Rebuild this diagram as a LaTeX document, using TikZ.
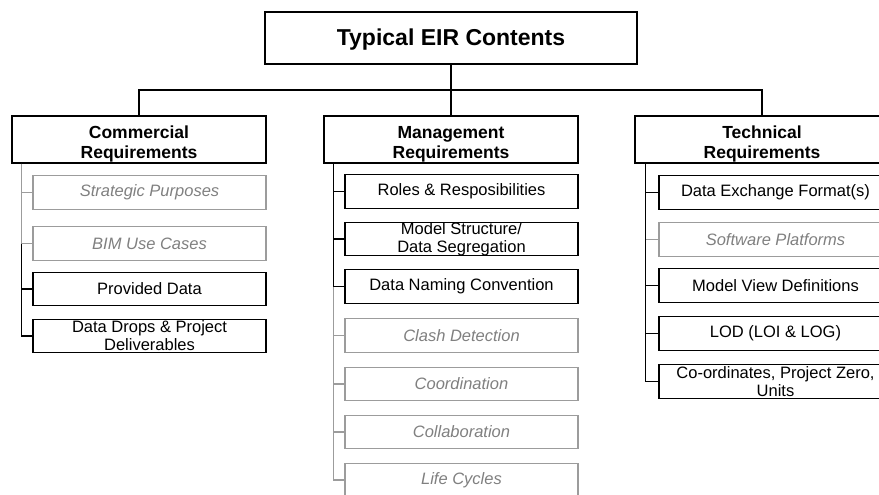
\documentclass[tikz,border=0pt]{standalone}
\usepackage{fontspec}
\setmainfont{Liberation Sans}
\definecolor{gtext}{HTML}{808080}
\definecolor{gline}{HTML}{9C9C9C}
\newcommand\headtxt[2]{\raisebox{-4.5pt}[\height][\depth]{\begin{tabular}{@{}c@{}}#1\\#2\end{tabular}}}
\begin{document}
\begin{tikzpicture}[x=1pt,y=-1pt,
  bl/.style={draw=black,line width=1.3pt},
  gl/.style={draw=gline,line width=1.2pt},
  topbox/.style={bl,fill=white,minimum width=372,minimum height=52,inner sep=0pt,
     font=\fontsize{23}{26}\selectfont\bfseries},
  headbox/.style={bl,fill=white,minimum width=254,minimum height=47,inner sep=0pt,align=center,
     font=\fontsize{17.5}{20}\selectfont\bfseries},
  kid/.style={bl,fill=white,minimum width=233,minimum height=33.5,inner sep=0pt,align=center,
     font=\fontsize{16.5}{18}\selectfont},
  gkid/.style={gl,fill=white,minimum width=233,minimum height=33.5,inner sep=0pt,align=center,
     text=gtext,font=\fontsize{16.5}{18}\selectfont\itshape}]
\useasboundingbox (0,0) rectangle (879,495);
\clip (0,0) rectangle (879,495);
% top
\node[topbox] (title) at (451,38) {\raisebox{-2pt}[\height][\depth]{Typical EIR Contents}};
\node[headbox] (com) at (139,139.5) {\headtxt{Commercial}{Requirements}};
\node[headbox] (mgmt) at (451,139.5) {\headtxt{Management}{Requirements}};
\node[headbox] (tech) at (762,139.5) {\headtxt{Technical}{Requirements}};
\coordinate (bar) at (0,90);
\draw[bl] (title.south) -- (mgmt.north);
\draw[bl] (com.north) -- (com.north |- bar) -| (tech.north);
% commercial children
\node[gkid] (c1) at (149.5,192.5) {Strategic Purposes};
\node[gkid] (c2) at (149.5,243.5) {BIM Use Cases};
\node[kid] (c3) at (149.5,289) {Provided Data};
\node[kid] (c4) at (149.5,336) {Data Drops \& Project\\Deliverables};
\coordinate (ca) at ([xshift=10]com.south west);
\draw[gl] (ca) |- (c1.west);
\draw[gl] (ca) |- (c2.west);
\draw[bl] (ca |- c2.west) |- (c3.west);
\draw[bl] (ca |- c2.west) |- (c4.west);
% management children
\node[kid] (m1) at (461.5,191.5) {Roles \& Resposibilities};
\node[kid] (m2) at (461.5,239) {Model Structure/\\Data Segregation};
\node[kid] (m3) at (461.5,286.5) {Data Naming Convention};
\node[gkid] (m4) at (461.5,335.5) {Clash Detection};
\node[gkid] (m5) at (461.5,384) {Coordination};
\node[gkid] (m6) at (461.5,432) {Collaboration};
\node[gkid] (m7) at (461.5,480) {Life Cycles};
\coordinate (ma) at ([xshift=10]mgmt.south west);
\draw[gl] (ma |- m3.west) |- (m4.west);
\draw[gl] (ma |- m3.west) |- (m5.west);
\draw[gl] (ma |- m3.west) |- (m6.west);
\draw[gl] (ma |- m3.west) |- (m7.west);
\draw[bl] (ma) |- (m1.west);
\draw[bl] (ma) |- (m2.west);
\draw[bl] (ma) |- (m3.west);
% technical children
\node[kid] (t1) at (775.5,192.5) {Data Exchange Format(s)};
\node[gkid] (t2) at (775.5,239.5) {Software Platforms};
\node[kid] (t3) at (775.5,285.5) {Model View Definitions};
\node[kid] (t4) at (775.5,333.5) {LOD (LOI \& LOG)};
\node[kid] (t5) at (775.5,381.5) {Co-ordinates, Project Zero,\\Units};
\coordinate (ta) at ([xshift=11]tech.south west);
\draw[gl] (ta |- t2.west) -- (t2.west);
\draw[bl] (ta) |- (t1.west);
\draw[bl] (ta) |- (t3.west);
\draw[bl] (ta) |- (t4.west);
\draw[bl] (ta) |- (t5.west);
\end{tikzpicture}
\end{document}
